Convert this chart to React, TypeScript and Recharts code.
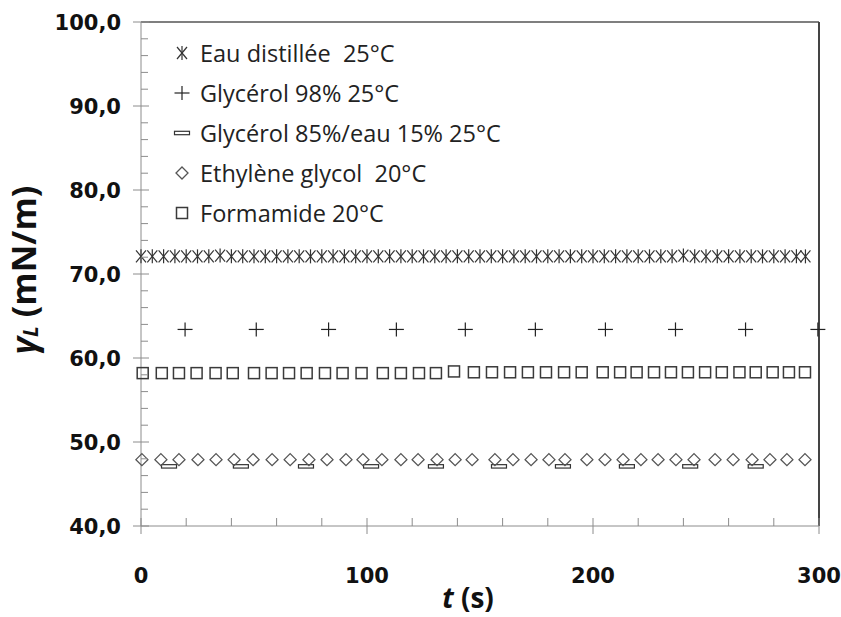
import React from "react";
import { ScatterChart, Scatter, XAxis, YAxis, ReferenceLine, Legend } from "recharts";

// Surface tension of test liquids over time
const eauT = [0, 5, 10, 15, 20, 25, 30, 35, 40, 45, 50, 55, 60, 65, 70, 75, 80, 85, 90, 95, 100, 105, 110, 115, 120, 125, 130, 135, 140, 145, 150, 155, 160, 165, 170, 175, 180, 185, 190, 195, 200, 205, 210, 215, 220, 225, 230, 235, 240, 245, 250, 255, 260, 265, 270, 275, 280, 285, 290, 294];
const eauY = [72.1, 72.1, 72.1, 72.1, 72.1, 72.1, 72.1, 72.2, 72.1, 72.1, 72.1, 72.1, 72.1, 72.1, 72.1, 72.1, 72.1, 72.1, 72.1, 72.1, 72.1, 72.1, 72.1, 72.1, 72.1, 72.1, 72.1, 72.1, 72.1, 72.1, 72.1, 72.1, 72.1, 72.1, 72.1, 72.1, 72.1, 72.1, 72.1, 72.1, 72.1, 72.1, 72.1, 72.1, 72.1, 72.1, 72.1, 72.1, 72.2, 72.1, 72.1, 72.1, 72.1, 72.1, 72.1, 72.1, 72.1, 72.1, 72.1, 72.1];

const gly98T = [19.5, 51, 83, 113, 143.5, 174.5, 205.5, 236.5, 267.5, 299.5];
const gly98Y = [63.4, 63.4, 63.4, 63.4, 63.4, 63.4, 63.4, 63.4, 63.4, 63.4];

const gly85T = [12.4, 44.2, 73, 101.8, 130.5, 158.4, 186.7, 215, 243, 272];
const gly85Y = [47.1, 47.1, 47.1, 47.1, 47.1, 47.1, 47.1, 47.1, 47.1, 47.1];

const ethT = [0.4, 8.8, 16.8, 25.2, 33.2, 41.2, 49.6, 58, 66, 74.3, 82.3, 90.7, 98.2, 106.6, 115, 122.6, 131, 139, 146.5, 156.6, 164.6, 172.6, 180.5, 187.6, 197.3, 205.3, 213.3, 221.2, 228.8, 236.7, 244.7, 254, 262, 270.4, 278.3, 285.8, 293.8];
const ethY = [47.9, 47.9, 47.9, 47.9, 47.9, 47.9, 47.9, 47.9, 47.9, 47.9, 47.9, 47.9, 47.9, 47.9, 47.9, 47.9, 47.9, 47.9, 47.9, 47.9, 47.9, 47.9, 47.9, 47.9, 47.9, 47.9, 47.9, 47.9, 47.9, 47.9, 47.9, 47.9, 47.9, 47.9, 47.9, 47.9, 47.9];

const formT = [0.75, 9.2, 16.8, 24.6, 33, 40.6, 50, 57.8, 65.5, 73.3, 81.4, 89.2, 97.6, 107, 115, 123, 130.5, 138.5, 147.3, 155.3, 163.3, 171.2, 179.2, 187.2, 195, 204.3, 212, 219.3, 227, 234.5, 242, 249.6, 257, 264.8, 272, 279.5, 286.7, 293.8];
const formY = [58.2, 58.2, 58.2, 58.2, 58.2, 58.2, 58.2, 58.2, 58.2, 58.2, 58.2, 58.2, 58.2, 58.2, 58.2, 58.2, 58.2, 58.4, 58.3, 58.3, 58.3, 58.3, 58.3, 58.3, 58.3, 58.3, 58.3, 58.3, 58.3, 58.3, 58.3, 58.3, 58.3, 58.3, 58.3, 58.3, 58.3, 58.3];

const xTicks = [0, 20, 40, 60, 80, 100, 120, 140, 160, 180, 200, 220, 240, 260, 280, 300];
const yTicks = [40, 42, 44, 46, 48, 50, 52, 54, 56, 58, 60, 62, 64, 66, 68, 70, 72, 74, 76, 78, 80, 82, 84, 86, 88, 90, 92, 94, 96, 98, 100];

const seriesNames = [
  "Eau distillée  25°C",
  "Glycérol 98% 25°C",
  "Glycérol 85%/eau 15% 25°C",
  "Ethylène glycol  20°C",
  "Formamide 20°C",
];

const zip = (ts: number[], ys: number[]) => ts.map((t, i) => ({ t, y: ys[i] }));
const eauData = zip(eauT, eauY);
const gly98Data = zip(gly98T, gly98Y);
const gly85Data = zip(gly85T, gly85Y);
const ethData = zip(ethT, ethY);
const formData = zip(formT, formY);

const AXIS = "#8c8c8c";
const TICK_FONT = "'DejaVu Sans', sans-serif";

// Marker glyphs
const Asterisk = ({ cx, cy }: any) => (
  <g stroke="#333" strokeWidth={1.2} fill="none">
    <line x1={cx - 5} y1={cy - 6} x2={cx + 5} y2={cy + 6} />
    <line x1={cx - 5} y1={cy + 6} x2={cx + 5} y2={cy - 6} />
    <line x1={cx} y1={cy - 7} x2={cx} y2={cy + 7} />
  </g>
);
const Plus = ({ cx, cy }: any) => (
  <g stroke="#222" strokeWidth={1.2} fill="none">
    <line x1={cx - 7.5} y1={cy} x2={cx + 7.5} y2={cy} />
    <line x1={cx} y1={cy - 7} x2={cx} y2={cy + 7} />
  </g>
);
const Dash = ({ cx, cy }: any) => (
  <rect x={cx - 7.5} y={cy - 1.7} width={15} height={3.4} fill="#fff" stroke="#333" strokeWidth={1.2} />
);
const Diamond = ({ cx, cy }: any) => (
  <path d={`M${cx} ${cy - 6}L${cx + 6} ${cy}L${cx} ${cy + 6}L${cx - 6} ${cy}Z`} fill="none" stroke="#555" strokeWidth={1.3} />
);
const Square = ({ cx, cy }: any) => (
  <rect x={cx - 5.5} y={cy - 5.5} width={11} height={11} fill="none" stroke="#3a3a3a" strokeWidth={1.5} />
);

const markers = [Asterisk, Plus, Dash, Diamond, Square];

const XTick = ({ x, y, payload }: any) => {
  const v = payload.value;
  const major = v % 100 === 0;
  return (
    <g>
      {major ? (
        <line x1={x} y1={y - 8} x2={x} y2={y + 8} stroke={AXIS} />
      ) : (
        <line x1={x} y1={y - 8} x2={x} y2={y} stroke={AXIS} />
      )}
      {major && (
        <text x={x} y={y + 57} textAnchor="middle" fontFamily={TICK_FONT} fontWeight="bold" fontSize={21} fill="#111">
          {v}
        </text>
      )}
    </g>
  );
};

const YTick = ({ x, y, payload }: any) => {
  const v = payload.value;
  const major = v % 10 === 0;
  return (
    <g>
      {major ? (
        <line x1={x - 8} y1={y} x2={x + 8} y2={y} stroke={AXIS} />
      ) : (
        <line x1={x} y1={y} x2={x + 7} y2={y} stroke={AXIS} />
      )}
      {major && (
        <text x={x - 20} y={y + 7.5} textAnchor="end" fontFamily={TICK_FONT} fontWeight="bold" fontSize={21} fill="#111">
          {v.toFixed(1).replace(".", ",")}
        </text>
      )}
    </g>
  );
};

const YTitle = ({ viewBox }: any) => {
  const cx = viewBox.x + 23;
  const cy = viewBox.y + viewBox.height / 2 - 4;
  return (
    <text
      x={cx}
      y={cy}
      transform={`rotate(-90 ${cx} ${cy})`}
      textAnchor="middle"
      dominantBaseline="central"
      fontFamily="'Open Sans', sans-serif"
      fontWeight="bold"
      fontSize={34}
      fill="#111"
    >
      <tspan fontStyle="italic">γ</tspan>
      <tspan fontStyle="italic" fontSize={21} dy={7}>L</tspan>
      <tspan dy={-7}> (mN/m)</tspan>
    </text>
  );
};

const XTitle = ({ viewBox }: any) => {
  const cx = viewBox.x + viewBox.width / 2 - 12;
  return (
    <text x={cx} y={viewBox.y + 82} textAnchor="middle" fontFamily="'Open Sans', sans-serif" fontWeight="bold" fontSize={28} fill="#111">
      <tspan fontStyle="italic">t</tspan>
      <tspan> (s)</tspan>
    </text>
  );
};

const LegendBox = () => (
  <svg width={460} height={200}>
    {seriesNames.map((name, i) => {
      const M = markers[i];
      const cy = 20 + i * 40;
      return (
        <g key={name}>
          <M cx={14} cy={cy} />
          <text x={32} y={cy} dominantBaseline="central" fontFamily="'Open Sans', sans-serif" fontSize={23.5} fill="#222" style={{ whiteSpace: "pre" }}>
            {name}
          </text>
        </g>
      );
    })}
  </svg>
);

export default function App() {
  return (
    <div style={{ position: "absolute", left: 0, top: 0 }}>
      <ScatterChart width={841} height={617} margin={{ top: 22, right: 22, left: 0, bottom: 0 }}>
        <XAxis
          type="number"
          dataKey="t"
          domain={[0, 300]}
          ticks={xTicks}
          interval={0}
          height={91}
          tickLine={false}
          tickSize={0}
          tickMargin={0}
          axisLine={{ stroke: AXIS }}
          tick={<XTick />}
          label={<XTitle />}
        />
        <YAxis
          type="number"
          dataKey="y"
          domain={[40, 100]}
          ticks={yTicks}
          interval={0}
          width={141}
          tickLine={false}
          tickSize={0}
          tickMargin={0}
          axisLine={{ stroke: AXIS }}
          tick={<YTick />}
          label={<YTitle />}
        />
        <ReferenceLine y={100} stroke="#555" strokeWidth={1.5} />
        <ReferenceLine x={300} stroke="#444" strokeWidth={2} />
        <Legend
          layout="vertical"
          align="center"
          verticalAlign="middle"
          wrapperStyle={{ left: 168, top: 33, width: 460, height: 200 }}
          content={<LegendBox />}
        />
        <Scatter name={seriesNames[0]} data={eauData} shape={<Asterisk />} isAnimationActive={false} />
        <Scatter name={seriesNames[1]} data={gly98Data} shape={<Plus />} isAnimationActive={false} />
        <Scatter name={seriesNames[2]} data={gly85Data} shape={<Dash />} isAnimationActive={false} />
        <Scatter name={seriesNames[3]} data={ethData} shape={<Diamond />} isAnimationActive={false} />
        <Scatter name={seriesNames[4]} data={formData} shape={<Square />} isAnimationActive={false} />
      </ScatterChart>
    </div>
  );
}
